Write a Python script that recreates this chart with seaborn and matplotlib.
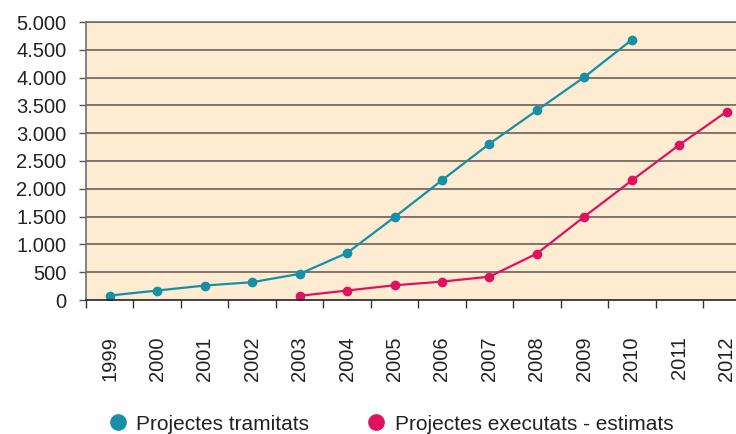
import pandas as pd
import seaborn as sns
import matplotlib.pyplot as plt
from matplotlib.lines import Line2D
from matplotlib.ticker import FuncFormatter

years = [1999, 2000, 2001, 2002, 2003, 2004, 2005, 2006, 2007, 2008, 2009, 2010, 2011, 2012]

tramitats_years = [1999, 2000, 2001, 2002, 2003, 2004, 2005, 2006, 2007, 2008, 2009, 2010]
tramitats = [80, 170, 260, 320, 470, 845, 1490, 2155, 2810, 3410, 4010, 4680]

executats_years = [2003, 2004, 2005, 2006, 2007, 2008, 2009, 2010, 2011, 2012]
executats = [75, 170, 265, 330, 420, 835, 1500, 2150, 2790, 3390]

series_names = ['Projectes tramitats', 'Projectes executats - estimats']
colors = ['#1590a6', '#e0115f']

df = pd.concat([
    pd.DataFrame({'year': tramitats_years, 'value': tramitats, 'serie': series_names[0]}),
    pd.DataFrame({'year': executats_years, 'value': executats, 'serie': series_names[1]}),
])
# category position on the x axis
df['pos'] = df['year'].map({y: i for i, y in enumerate(years)})

sns.set_style('white')
plt.rcParams['font.family'] = ['Liberation Sans', 'DejaVu Sans']

fig = plt.figure(figsize=(7.36, 4.34), dpi=100)
# the plot area runs a bit past the right edge, like the original
ax = fig.add_axes([86 / 736, 1 - 300 / 434, 664.5 / 736, 278 / 434])
ax.set_facecolor('#fdebd2')

sns.lineplot(data=df, x='pos', y='value', hue='serie', palette=colors,
             marker='o', markersize=7, markeredgewidth=0, linewidth=1.6,
             legend=False, ax=ax)

ax.set_xlim(-0.5, len(years) - 0.5)
ax.set_ylim(0, 5000)
ax.set_yticks(range(0, 5001, 500))
ax.yaxis.set_major_formatter(FuncFormatter(lambda v, p: f'{int(v):,}'.replace(',', '.')))

ax.set_xticks([i - 0.5 for i in range(len(years))])
ax.set_xticklabels([])
ax.set_xticks(range(len(years)), minor=True)
ax.set_xticklabels([str(y) for y in years], minor=True, rotation=90)

for v in range(500, 5001, 500):
    ax.axhline(v, color='#5a5550', lw=1.1, zorder=0.5)

for s in ['top', 'left', 'bottom']:
    ax.spines[s].set_color('#6e6e6e')
    ax.spines[s].set_linewidth(1.2)
ax.spines['bottom'].set_color('#222222')
ax.spines['right'].set_visible(False)

ax.tick_params(axis='y', direction='out', length=5, width=1, color='#555555',
               labelsize=14.5, pad=9, left=True, labelcolor='#222222')
ax.tick_params(axis='x', which='major', direction='out', length=6, width=1,
               color='#333333', bottom=True)
ax.tick_params(axis='x', which='minor', length=0, labelsize=14.5, pad=26,
               labelcolor='#222222')
ax.set_xlabel('')
ax.set_ylabel('')

handles = [Line2D([], [], marker='o', ls='', color=c, markersize=11, label=n)
           for c, n in zip(colors, series_names)]
fig.legend(handles=handles, loc='center left', bbox_to_anchor=(105 / 736, 1 - 424 / 434),
           ncol=2, frameon=False, fontsize=15, handletextpad=0.3,
           columnspacing=2.6, handlelength=1.2, labelcolor='#222222',
           borderpad=0, borderaxespad=0)

plt.savefig('out.png', dpi=100)
